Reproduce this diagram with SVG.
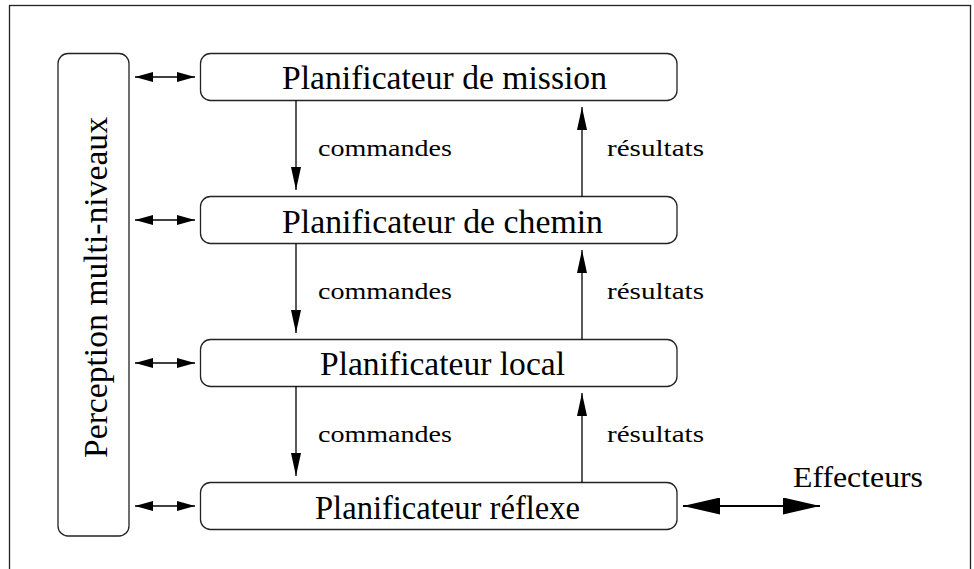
<svg xmlns="http://www.w3.org/2000/svg" width="974" height="569" viewBox="0 0 974 569">
<defs>
<style>
.box{fill:#fff;stroke:#222;stroke-width:1.3}
.t{font-family:"Liberation Serif","Times New Roman",serif;fill:#000}
.big{font-size:33px}
.sm{font-size:24px}
.ln{stroke:#000;stroke-width:1.3;fill:none}
.lnb{stroke:#000;stroke-width:2.2;fill:none}
</style>
<marker id="hs" markerUnits="userSpaceOnUse" markerWidth="18" markerHeight="10" refX="18" refY="5" orient="auto-start-reverse"><path d="M0,0 L18,5 L0,10 z" fill="#000"/></marker>
<marker id="hv" markerUnits="userSpaceOnUse" markerWidth="23" markerHeight="10" refX="23" refY="5" orient="auto-start-reverse"><path d="M0,0 L23,5 L0,10 z" fill="#000"/></marker>
<marker id="hb" markerUnits="userSpaceOnUse" markerWidth="37" markerHeight="17" refX="37" refY="8.5" orient="auto-start-reverse"><path d="M0,0 L37,8.5 L0,17 z" fill="#000"/></marker>
</defs>
<rect x="9.5" y="5.5" width="961" height="620" fill="none" stroke="#222" stroke-width="1.3"/>
<g id="perception">
<rect class="box" x="58" y="53.5" width="71" height="482.5" rx="10"/>
<text class="t big" transform="translate(107,458) rotate(-90)" textLength="341" lengthAdjust="spacingAndGlyphs">Perception multi-niveaux</text>
</g>
<g id="mission">
<rect class="box" x="200.5" y="53.5" width="476.5" height="47" rx="10"/>
<text class="t big" x="282" y="89" textLength="325" lengthAdjust="spacingAndGlyphs">Planificateur de mission</text>
</g>
<g id="chemin">
<rect class="box" x="200.5" y="196.5" width="476.5" height="47" rx="10"/>
<text class="t big" x="282" y="233" textLength="321" lengthAdjust="spacingAndGlyphs">Planificateur de chemin</text>
</g>
<g id="local">
<rect class="box" x="200.5" y="339.5" width="476.5" height="47" rx="10"/>
<text class="t big" x="320" y="375" textLength="245" lengthAdjust="spacingAndGlyphs">Planificateur local</text>
</g>
<g id="reflexe">
<rect class="box" x="200.5" y="482.5" width="476.5" height="47" rx="10"/>
<text class="t big" x="315" y="519" textLength="265" lengthAdjust="spacingAndGlyphs">Planificateur réflexe</text>
</g>
<g id="effecteurs">
<text class="t" style="font-size:30px" x="793" y="487" textLength="130" lengthAdjust="spacingAndGlyphs">Effecteurs</text>
</g>
<g id="connectors">
<line class="ln" x1="135" y1="77" x2="195" y2="77" marker-start="url(#hs)" marker-end="url(#hs)"/>
<line class="ln" x1="135" y1="220" x2="195" y2="220" marker-start="url(#hs)" marker-end="url(#hs)"/>
<line class="ln" x1="135" y1="363" x2="195" y2="363" marker-start="url(#hs)" marker-end="url(#hs)"/>
<line class="ln" x1="135" y1="506" x2="195" y2="506" marker-start="url(#hs)" marker-end="url(#hs)"/>
<line class="ln" x1="296" y1="100.5" x2="296" y2="190" marker-end="url(#hv)"/>
<line class="ln" x1="296" y1="243.5" x2="296" y2="333" marker-end="url(#hv)"/>
<line class="ln" x1="296" y1="386.5" x2="296" y2="476" marker-end="url(#hv)"/>
<line class="ln" x1="582" y1="196.5" x2="582" y2="107" marker-end="url(#hv)"/>
<line class="ln" x1="582" y1="339.5" x2="582" y2="250" marker-end="url(#hv)"/>
<line class="ln" x1="582" y1="482.5" x2="582" y2="393" marker-end="url(#hv)"/>
<line class="lnb" x1="683" y1="506" x2="820" y2="506" marker-start="url(#hb)" marker-end="url(#hb)"/>
<text class="t sm" x="318" y="156" textLength="134" lengthAdjust="spacingAndGlyphs">commandes</text>
<text class="t sm" x="318" y="299" textLength="134" lengthAdjust="spacingAndGlyphs">commandes</text>
<text class="t sm" x="318" y="442" textLength="134" lengthAdjust="spacingAndGlyphs">commandes</text>
<text class="t sm" x="607" y="156" textLength="97" lengthAdjust="spacingAndGlyphs">résultats</text>
<text class="t sm" x="607" y="299" textLength="97" lengthAdjust="spacingAndGlyphs">résultats</text>
<text class="t sm" x="607" y="442" textLength="97" lengthAdjust="spacingAndGlyphs">résultats</text>
</g>
</svg>
